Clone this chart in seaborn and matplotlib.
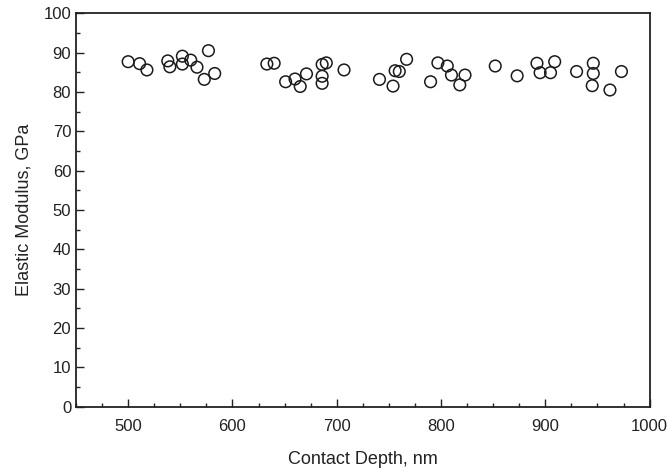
import pandas as pd
import numpy as np
import matplotlib
matplotlib.use('Agg')
import matplotlib.pyplot as plt
from matplotlib.ticker import MultipleLocator
import seaborn as sns

# Data
contact_depth = [500, 511, 518, 538, 540, 552, 552, 560, 566, 577, 573, 583,
                 633, 640, 651, 660, 665, 671, 686, 690, 686, 686, 707,
                 741, 754, 756, 760, 767, 790, 797, 806, 810, 818, 823,
                 852, 873, 892, 895, 905, 909, 930, 946, 946, 945, 962, 973]
elastic_modulus = [87.7, 87.2, 85.6, 87.9, 86.4, 89.1, 87.1, 88.1, 86.3, 90.5, 83.2, 84.7,
                   87.1, 87.3, 82.6, 83.3, 81.4, 84.6, 87.0, 87.4, 84.0, 82.2, 85.6,
                   83.2, 81.5, 85.4, 85.2, 88.3, 82.6, 87.4, 86.6, 84.3, 81.8, 84.3,
                   86.6, 84.1, 87.3, 84.9, 84.9, 87.7, 85.2, 87.3, 84.7, 81.6, 80.5, 85.2]

df = pd.DataFrame({'depth': contact_depth, 'modulus': elastic_modulus})

sns.set_style('ticks')
plt.rcParams['font.family'] = ['Liberation Sans', 'DejaVu Sans']

fig = plt.figure(figsize=(6.69, 4.75), dpi=100)
ax = fig.add_axes([0.1136, 0.1438, 0.8574, 0.8282])

sns.scatterplot(data=df, x='depth', y='modulus', ax=ax, marker='o', s=70,
                facecolors='none', edgecolor='#1a1a1a', linewidth=1.1)

ax.set_xlim(450, 1000)
ax.set_ylim(0, 100)
ax.xaxis.set_major_locator(MultipleLocator(100))
ax.xaxis.set_minor_locator(MultipleLocator(25))
ax.yaxis.set_major_locator(MultipleLocator(10))
ax.yaxis.set_minor_locator(MultipleLocator(5))
ax.tick_params(which='both', direction='in', colors='#222222', labelsize=12, width=1)
ax.tick_params(which='major', length=6)
ax.tick_params(which='minor', length=3)
ax.tick_params(axis='x', which='major', pad=9)

for s in ax.spines.values():
    s.set_visible(True)
    s.set_color('#222222')
    s.set_linewidth(1.3)

ax.set_xlabel('Contact Depth, nm', fontsize=13, color='#222222', labelpad=12)
ax.set_ylabel('Elastic Modulus, GPa', fontsize=13, color='#222222', labelpad=8)

fig.savefig('out.png', dpi=100)
plt.close()
